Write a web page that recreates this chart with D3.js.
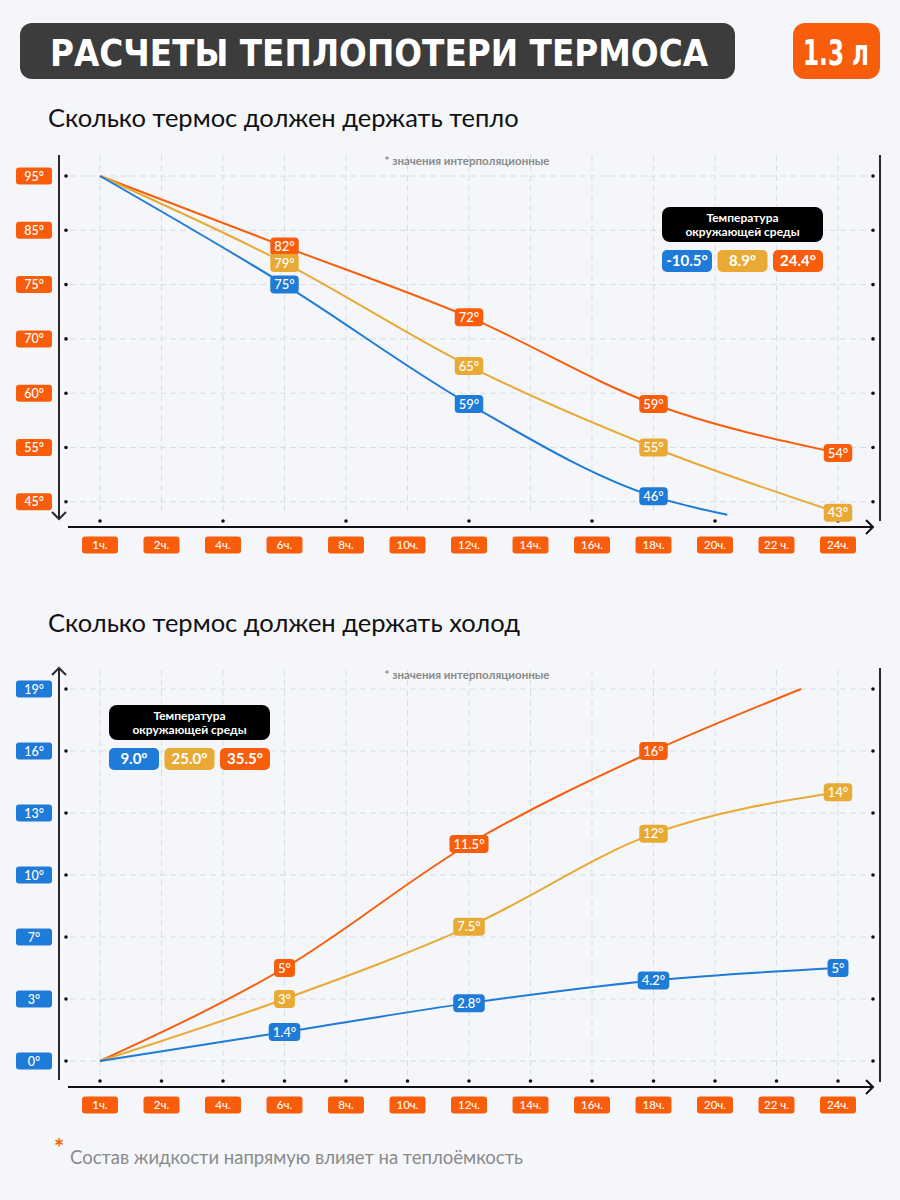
<!DOCTYPE html>
<html>
<head>
<meta charset="utf-8">
<script src="https://cdn.jsdelivr.net/npm/d3@7"></script>
<style>
  body { margin: 0; background: #f4f6fa; }
  svg { display: block; }
</style>
</head>
<body>
<div id="chart"></div>
<script>
// x categories (hours) and y tick values of both charts
const hours = ['1ч.', '2ч.', '4ч.', '6ч.', '8ч.', '10ч.', '12ч.', '14ч.', '16ч.', '18ч.', '20ч.', '22 ч.', '24ч.'];
const warmTicks = [95, 85, 75, 70, 60, 55, 45];
const coldTicks = [19, 16, 13, 10, 7, 3, 0];

// legend (ambient temperature)
const warmLegend = ['-10.5°', '8.9°', '24.4°'];
const coldLegend = ['9.0°', '25.0°', '35.5°'];

// warm chart series: position on hour axis (index), value, labelled?
const warmBlueAt = [0, 3, 6, 9, 10.2];
const warmBlue = [95, 75, 59, 46, 42.6];
const warmBlueLbl = [0, 1, 1, 1, 0];
const warmYellowAt = [0, 3, 6, 9, 12];
const warmYellow = [95, 79, 65, 55, 43];
const warmYellowLbl = [0, 1, 1, 1, 1];
const warmOrangeAt = [0, 3, 6, 9, 12];
const warmOrange = [95, 82, 72, 59, 54];
const warmOrangeLbl = [0, 1, 1, 1, 1];

// cold chart series
const coldBlueAt = [0, 3, 6, 9, 12];
const coldBlue = [0, 1.4, 2.8, 4.2, 5];
const coldBlueLbl = [0, 1, 1, 1, 1];
const coldYellowAt = [0, 3, 6, 9, 12];
const coldYellow = [0, 3, 7.5, 12, 14];
const coldYellowLbl = [0, 1, 1, 1, 1];
const coldOrangeAt = [0, 3, 6, 9, 11.4];
const coldOrange = [0, 5, 11.5, 16, 19];
const coldOrangeLbl = [0, 1, 1, 1, 0];

const BLUE = '#1f7bd8', YELLOW = '#e8aa35', ORANGE = '#f85d0c';
const FONT = 'Lato, "Noto Sans", sans-serif';
const NARROW = '"Liberation Sans Narrow", "DejaVu Sans Condensed", sans-serif';

const svg = d3.select('#chart').append('svg')
    .attr('width', 900)
    .attr('height', 1200);

svg.append('rect').attr('width', 900).attr('height', 1200).attr('fill', '#f4f6fa');

// header
svg.append('rect')
    .attr('x', 20).attr('y', 23).attr('width', 715).attr('height', 56)
    .attr('rx', 12).attr('fill', '#3c3c3c');
svg.append('text')
    .attr('x', 50).attr('y', 66)
    .attr('textLength', 658).attr('lengthAdjust', 'spacingAndGlyphs')
    .style('font-family', NARROW)
    .style('font-weight', 700).style('font-size', '38px')
    .attr('fill', '#fff')
    .text('РАСЧЕТЫ ТЕПЛОПОТЕРИ ТЕРМОСА');
svg.append('rect')
    .attr('x', 793).attr('y', 23).attr('width', 87).attr('height', 56)
    .attr('rx', 12).attr('fill', ORANGE);
svg.append('text')
    .attr('x', 803).attr('y', 65)
    .attr('textLength', 66).attr('lengthAdjust', 'spacingAndGlyphs')
    .style('font-family', NARROW)
    .style('font-weight', 700).style('font-size', '36px')
    .attr('fill', '#fff')
    .text('1.3 л');

function pill(g, cx, cy, label, color, opts) {
    opts = opts || {};
    let fs = opts.fontSize || 12;
    let h = opts.height || 17;
    let t = g.append('text')
        .attr('x', cx).attr('y', cy + fs * 0.36)
        .attr('text-anchor', 'middle')
        .style('font-family', FONT)
        .style('font-weight', opts.weight || 700)
        .style('font-size', fs + 'px')
        .attr('fill', '#fff')
        .text(label);
    let w = opts.width || (t.node().getComputedTextLength() + (opts.pad || 8));
    g.insert('rect', function() { return t.node(); })
        .attr('x', cx - w / 2).attr('y', cy - h / 2)
        .attr('width', w).attr('height', h)
        .attr('rx', opts.rx || 4)
        .attr('fill', color);
}

function drawChart(c) {
    let g = svg.append('g');

    let x = d3.scaleLinear().domain([0, hours.length - 1]).range([100, 838]);
    let y = d3.scaleLinear()
        .domain(c.ticks)
        .range(c.ticks.map((d, i) => c.yTop + i * c.step));

    // subtitle
    g.append('text')
        .attr('x', 48).attr('y', c.titleY)
        .style('font-family', FONT).style('font-size', '25.5px')
        .attr('fill', '#111')
        .text(c.title);

    // grid
    g.selectAll('.hgrid').data(c.ticks).enter().append('line')
        .attr('x1', 70).attr('x2', 868)
        .attr('y1', d => y(d)).attr('y2', d => y(d))
        .attr('stroke', '#d8dce3').attr('stroke-dasharray', '6,4');
    g.selectAll('.vgrid').data(hours).enter().append('line')
        .attr('x1', (d, i) => x(i)).attr('x2', (d, i) => x(i))
        .attr('y1', c.gridTop).attr('y2', c.gridBottom)
        .attr('stroke', '#d8dce3').attr('stroke-dasharray', '6,4');

    // note
    g.append('text')
        .attr('x', 467).attr('y', c.noteY)
        .attr('text-anchor', 'middle')
        .style('font-family', FONT).style('font-size', '11.5px').style('font-weight', 700)
        .attr('fill', '#8a8a8a')
        .text('* значения интерполяционные');

    // axes
    g.append('line').attr('x1', 59).attr('x2', 59).attr('y1', c.axisTop).attr('y2', c.axisBottom)
        .attr('stroke', '#2b2b2b').attr('stroke-width', 2);
    g.append('line').attr('x1', 880).attr('x2', 880).attr('y1', c.axisTop).attr('y2', c.axisBottom + 2)
        .attr('stroke', '#2b2b2b').attr('stroke-width', 2);
    g.append('line').attr('x1', 68).attr('x2', 873).attr('y1', c.xAxisY).attr('y2', c.xAxisY)
        .attr('stroke', '#111').attr('stroke-width', 2);
    let ay = c.arrowDown ? c.axisBottom : c.axisTop;
    let ad = c.arrowDown ? -1 : 1;
    g.append('path')
        .attr('d', `M52,${ay + ad * 7} L59,${ay} L66,${ay + ad * 7}`)
        .attr('fill', 'none').attr('stroke', '#2b2b2b').attr('stroke-width', 2);
    g.append('path')
        .attr('d', `M866,${c.xAxisY - 7} L873,${c.xAxisY} L866,${c.xAxisY + 7}`)
        .attr('fill', 'none').attr('stroke', '#111').attr('stroke-width', 2);

    // tick dots
    g.selectAll('.ldot').data(c.ticks).enter().append('circle')
        .attr('cx', 66).attr('cy', d => y(d)).attr('r', 1.8).attr('fill', '#111');
    g.selectAll('.rdot').data(c.ticks).enter().append('circle')
        .attr('cx', 873).attr('cy', d => y(d)).attr('r', 1.8).attr('fill', '#111');
    g.selectAll('.xdot').data(hours.filter((d, i) => i % c.dotEvery === 0)).enter().append('circle')
        .attr('cx', d => x(hours.indexOf(d))).attr('cy', c.xAxisY - 6).attr('r', 1.8).attr('fill', '#111');

    // tick labels
    c.ticks.forEach(d => pill(g, 34, y(d), d + '°', c.tickColor, { width: 36, height: 17, fontSize: 12.5, weight: 500, rx: 3 }));
    hours.forEach((d, i) => pill(g, x(i), c.xAxisY + 18, d, ORANGE, { width: 36, height: 17, fontSize: 11.5, weight: 500, rx: 3 }));

    // lines
    let line = d3.line()
        .x(d => x(d.at))
        .y(d => y(d.v))
        .curve(d3.curveMonotoneX);
    c.series.forEach(s => {
        let pts = s.at.map((a, i) => ({ at: a, v: s.vals[i], lbl: s.lbl[i] }));
        g.append('path')
            .datum(pts)
            .attr('d', line)
            .attr('fill', 'none')
            .attr('stroke', s.color)
            .attr('stroke-width', 2);
    });
    c.series.forEach(s => {
        s.at.forEach((a, i) => {
            if (s.lbl[i]) pill(g, x(a), y(s.vals[i]), s.vals[i] + '°', s.color, { height: 18, fontSize: 13, weight: 500, pad: 8 });
        });
    });

    // legend
    let lg = g.append('g').attr('transform', `translate(${c.legendX},${c.legendY})`);
    lg.append('rect').attr('width', 161).attr('height', 35).attr('rx', 8).attr('fill', '#000');
    lg.append('text').attr('x', 80.5).attr('y', 15)
        .attr('text-anchor', 'middle')
        .style('font-family', FONT).style('font-size', '12px').style('font-weight', 700)
        .attr('fill', '#fff').text('Температура');
    lg.append('text').attr('x', 80.5).attr('y', 29)
        .attr('text-anchor', 'middle')
        .style('font-family', FONT).style('font-size', '12px').style('font-weight', 700)
        .attr('fill', '#fff').text('окружающей среды');
    [BLUE, YELLOW, ORANGE].forEach((col, i) => {
        pill(lg, 25 + i * 55.5, 54, c.legend[i], col, { width: 50, height: 22, fontSize: 15, weight: 700, rx: 5 });
    });
}

drawChart({
    title: 'Сколько термос должен держать тепло', titleY: 127,
    ticks: warmTicks, yTop: 176, step: 54.3, tickColor: ORANGE,
    gridTop: 155, gridBottom: 515, axisTop: 155, axisBottom: 519, arrowDown: true,
    xAxisY: 527, dotEvery: 2, noteY: 165,
    legend: warmLegend, legendX: 662, legendY: 207,
    series: [
        { at: warmOrangeAt, vals: warmOrange, lbl: warmOrangeLbl, color: ORANGE },
        { at: warmYellowAt, vals: warmYellow, lbl: warmYellowLbl, color: YELLOW },
        { at: warmBlueAt, vals: warmBlue, lbl: warmBlueLbl, color: BLUE }
    ]
});

drawChart({
    title: 'Сколько термос должен держать холод', titleY: 632,
    ticks: coldTicks, yTop: 689, step: 62, tickColor: BLUE,
    gridTop: 670, gridBottom: 1075, axisTop: 668, axisBottom: 1080, arrowDown: false,
    xAxisY: 1087, dotEvery: 1, noteY: 679,
    legend: coldLegend, legendX: 109, legendY: 705,
    series: [
        { at: coldOrangeAt, vals: coldOrange, lbl: coldOrangeLbl, color: ORANGE },
        { at: coldYellowAt, vals: coldYellow, lbl: coldYellowLbl, color: YELLOW },
        { at: coldBlueAt, vals: coldBlue, lbl: coldBlueLbl, color: BLUE }
    ]
});

// footer
svg.append('text')
    .attr('x', 54).attr('y', 1157)
    .style('font-family', FONT).style('font-size', '24px').style('font-weight', 700)
    .attr('fill', ORANGE).text('*');
svg.append('text')
    .attr('x', 70).attr('y', 1164)
    .style('font-family', FONT).style('font-size', '18.5px')
    .attr('fill', '#8a8a8a')
    .text('Состав жидкости напрямую влияет на теплоёмкость');
</script>
</body>
</html>
